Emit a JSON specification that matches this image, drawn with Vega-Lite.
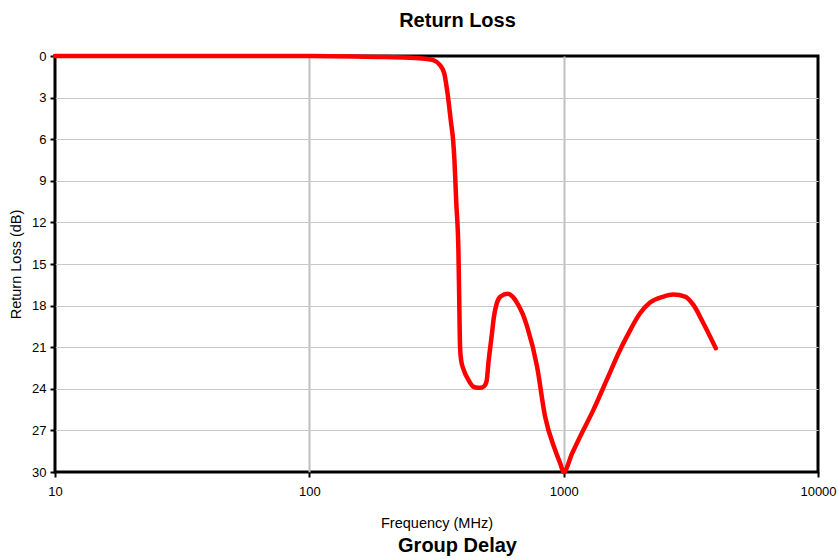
{
  "$schema": "https://vega.github.io/schema/vega-lite/v6.json",
  "padding": {"left": 7, "top": 9, "right": 0, "bottom": 0},
  "autosize": {"type": "pad"},
  "background": "#ffffff",
  "config": {
    "font": "Liberation Sans",
    "concat": {"spacing": 5},
    "title": {"fontSize": 20, "fontWeight": "bold", "color": "#000000", "anchor": "middle", "offset": 19, "dx": 21}
  },
  "vconcat": [
    {
      "title": "Return Loss",
      "width": 763,
      "height": 416,
      "view": {"stroke": "#000000", "strokeWidth": 3},
      "data": {
        "values": [
          {"freq": 10, "rl": 0},
          {"freq": 50, "rl": 0},
          {"freq": 100, "rl": 0},
          {"freq": 150, "rl": 0.03},
          {"freq": 200, "rl": 0.08},
          {"freq": 250, "rl": 0.12},
          {"freq": 285, "rl": 0.2},
          {"freq": 307, "rl": 0.3},
          {"freq": 326, "rl": 0.65},
          {"freq": 339, "rl": 1.23},
          {"freq": 348, "rl": 2.45},
          {"freq": 361, "rl": 4.85},
          {"freq": 367.5, "rl": 6.06},
          {"freq": 372, "rl": 7.5},
          {"freq": 378, "rl": 10.5},
          {"freq": 385.6, "rl": 14},
          {"freq": 388.5, "rl": 17.6},
          {"freq": 391.4, "rl": 21},
          {"freq": 395, "rl": 21.9},
          {"freq": 404, "rl": 22.6},
          {"freq": 422, "rl": 23.36},
          {"freq": 441, "rl": 23.84},
          {"freq": 461, "rl": 23.92},
          {"freq": 478, "rl": 23.9},
          {"freq": 492, "rl": 23.7},
          {"freq": 498.4, "rl": 23.4},
          {"freq": 505.6, "rl": 22.2},
          {"freq": 521, "rl": 20.2},
          {"freq": 532, "rl": 18.8},
          {"freq": 546, "rl": 17.83},
          {"freq": 565, "rl": 17.35},
          {"freq": 602, "rl": 17.15},
          {"freq": 630, "rl": 17.35},
          {"freq": 656, "rl": 17.8},
          {"freq": 690, "rl": 18.6},
          {"freq": 718, "rl": 19.5},
          {"freq": 786, "rl": 22.4},
          {"freq": 845, "rl": 26.0},
          {"freq": 925, "rl": 28.4},
          {"freq": 970, "rl": 29.4},
          {"freq": 1000, "rl": 30},
          {"freq": 1080, "rl": 28.65},
          {"freq": 1160, "rl": 27.45},
          {"freq": 1309, "rl": 25.52},
          {"freq": 1477, "rl": 23.36},
          {"freq": 1666, "rl": 21.2},
          {"freq": 1771, "rl": 20.24},
          {"freq": 1997, "rl": 18.55},
          {"freq": 2186, "rl": 17.78},
          {"freq": 2466, "rl": 17.35},
          {"freq": 2700, "rl": 17.2},
          {"freq": 3001, "rl": 17.35},
          {"freq": 3236, "rl": 17.95},
          {"freq": 3543, "rl": 19.27},
          {"freq": 3963, "rl": 21.07}
        ]
      },
      "mark": {"type": "line", "color": "#ff0000", "strokeWidth": 4.5, "interpolate": "monotone", "strokeCap": "round", "strokeJoin": "round"},
      "encoding": {
        "x": {
          "field": "freq",
          "type": "quantitative",
          "scale": {"type": "log", "domain": [10, 10000], "nice": false},
          "axis": {
            "title": "Frequency (MHz)",
            "values": [10, 100, 1000, 10000],
            "format": "d",
            "domain": false,
            "grid": true,
            "gridColor": "#c0c0c0",
            "gridWidth": 2,
            "gridOpacity": {"condition": {"test": "datum.value == 10 || datum.value == 10000", "value": 0}, "value": 1},
            "ticks": true,
            "tickColor": "#000000",
            "tickWidth": 2,
            "tickSize": 5,
            "labelFontSize": 13,
            "labelColor": "#000000",
            "labelPadding": 8,
            "labelFlush": false,
            "titleFontSize": 14.5,
            "titleFontWeight": "normal",
            "titleColor": "#000000",
            "titlePadding": 18
          }
        },
        "y": {
          "field": "rl",
          "type": "quantitative",
          "scale": {"domain": [0, 30], "reverse": true, "nice": false},
          "axis": {
            "title": "Return Loss (dB)",
            "values": [0, 3, 6, 9, 12, 15, 18, 21, 24, 27, 30],
            "domain": false,
            "grid": true,
            "gridColor": "#c8c8c8",
            "gridWidth": 1,
            "gridOpacity": {"condition": {"test": "datum.value == 0 || datum.value == 30", "value": 0}, "value": 1},
            "ticks": true,
            "tickColor": "#000000",
            "tickWidth": 2,
            "tickSize": 5,
            "labelFontSize": 13,
            "labelColor": "#000000",
            "labelPadding": 4,
            "labelFlush": false,
            "titleFontSize": 14.5,
            "titleFontWeight": "normal",
            "titleColor": "#000000",
            "titlePadding": 8
          }
        }
      }
    },
    {
      "title": "Group Delay",
      "width": 763,
      "height": 10,
      "view": {"stroke": null},
      "data": {"values": []},
      "mark": "point"
    }
  ]
}
